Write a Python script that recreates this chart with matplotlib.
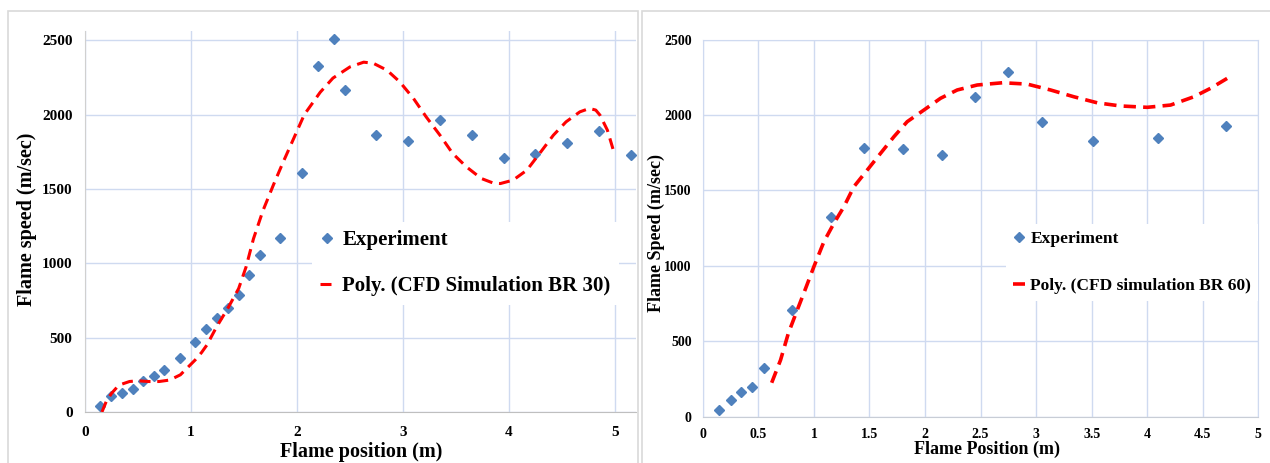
# Flame speed vs flame position -- experiment and CFD trend lines (BR 30 / BR 60)

# ====> Importing libraries
import matplotlib
matplotlib.use('Agg')
import matplotlib.pyplot as plt
from matplotlib.patches import Rectangle

plt.rcParams['font.family'] = ['Liberation Serif', 'DejaVu Serif']
plt.rcParams['font.weight'] = 'bold'

# ====> data

# BR 30 -- experiment
exp30_x = [0.14, 0.25, 0.35, 0.45, 0.55, 0.65, 0.75, 0.90, 1.04, 1.14, 1.25, 1.35,
           1.45, 1.55, 1.65, 1.84, 2.05, 2.20, 2.35, 2.45, 2.75, 3.05, 3.35, 3.65,
           3.95, 4.25, 4.55, 4.85, 5.15]
exp30_y = [40, 107, 130, 155, 208, 242, 282, 363, 468, 558, 634, 699,
           786, 920, 1057, 1169, 1608, 2325, 2505, 2164, 1861, 1823, 1960, 1861,
           1705, 1732, 1808, 1888, 1725]

# BR 30 -- polynomial trend of CFD simulation
cfd30_x = [0.16, 0.20, 0.25, 0.30, 0.35, 0.42, 0.50, 0.60, 0.70, 0.80, 0.90, 0.97,
           1.04, 1.10, 1.15, 1.24, 1.35, 1.45, 1.52, 1.59, 1.68, 1.78, 1.87, 1.97,
           2.07, 2.22, 2.34, 2.50, 2.63, 2.72, 2.85, 2.97, 3.10, 3.22, 3.35, 3.47,
           3.60, 3.74, 3.85, 3.92, 4.04, 4.17, 4.29, 4.42, 4.54, 4.67, 4.76, 4.82,
           4.86, 4.93, 5.00]
cfd30_y = [0, 70, 125, 165, 188, 205, 210, 205, 205, 215, 250, 300,
           350, 400, 450, 570, 700, 830, 975, 1165, 1355, 1530, 1680, 1840,
           2000, 2150, 2245, 2320, 2352, 2345, 2298, 2220, 2108, 1984, 1861, 1738,
           1648, 1570, 1540, 1536, 1559, 1626, 1738, 1861, 1951, 2018, 2041, 2030,
           1996, 1895, 1727]

# BR 60 -- experiment
exp60_x = [0.15, 0.25, 0.34, 0.44, 0.55, 0.80, 1.15, 1.45, 1.80, 2.15, 2.45, 2.75,
           3.05, 3.51, 4.10, 4.71]
exp60_y = [44, 111, 166, 195, 321, 707, 1322, 1779, 1775, 1733, 2121, 2283,
           1952, 1828, 1850, 1929]

# BR 60 -- polynomial trend of CFD simulation
cfd60_x = [0.62, 0.70, 0.77, 0.85, 0.92, 1.00, 1.09, 1.18, 1.27, 1.36, 1.48, 1.60,
           1.72, 1.84, 1.99, 2.14, 2.29, 2.47, 2.70, 2.92, 3.13, 3.34, 3.55, 3.76,
           4.00, 4.21, 4.42, 4.57, 4.72]
cfd60_y = [225, 376, 553, 707, 840, 995, 1160, 1282, 1392, 1525, 1635, 1746,
           1856, 1956, 2033, 2111, 2166, 2199, 2214, 2205, 2166, 2121, 2081, 2060,
           2051, 2066, 2121, 2177, 2243]

grid_col = '#cfdaf0'
blue = '#4f81bd'
red = '#ff0000'

# ====> figure and panel frames
fig = plt.figure(figsize=(12.7, 4.63), dpi=100)
fig.patches.append(Rectangle((8 / 1270, -0.1), 630 / 1270, 1.1 - 11 / 463,
                             transform=fig.transFigure, fill=False,
                             edgecolor='#d9d9d9', linewidth=1.2))
fig.patches.append(Rectangle((642 / 1270, -0.1), 630 / 1270, 1.1 - 11 / 463,
                             transform=fig.transFigure, fill=False,
                             edgecolor='#d9d9d9', linewidth=1.2))

ax1 = fig.add_axes([85 / 1270, 51 / 463, 551 / 1270, 381.5 / 463])
ax2 = fig.add_axes([702.8 / 1270, 46.3 / 463, 555.5 / 1270, 377.1 / 463])


def style_axes(ax, xticks, xlabels, ylabel, xlabel, tick_size, label_size):
    ax.set_xticks(xticks)
    ax.set_xticklabels(xlabels)
    ax.set_yticks([0, 500, 1000, 1500, 2000, 2500])
    ax.grid(True, color=grid_col, linewidth=1)
    ax.set_axisbelow(True)
    ax.tick_params(length=0, labelsize=tick_size)
    for lab in ax.get_xticklabels() + ax.get_yticklabels():
        lab.set_fontweight('bold')
    ax.set_ylabel(ylabel, fontsize=label_size, fontweight='bold', va='center')
    ax.set_xlabel(xlabel, fontsize=label_size, fontweight='bold', va='center')


# ====> BR 30 plot
ax1.plot(exp30_x, exp30_y, linestyle='none', marker='D', markersize=5,
         color=blue, label='Experiment', zorder=3)
ax1.plot(cfd30_x, cfd30_y, color=red, linewidth=2.2, linestyle=(0, (3.6, 2.2)),
         label='Poly. (CFD Simulation BR 30)', zorder=4)
ax1.set_xlim(0, 5.2)
ax1.set_ylim(0, 2565)
style_axes(ax1, [0, 1, 2, 3, 4, 5], ['0', '1', '2', '3', '4', '5'],
           'Flame speed (m/sec)', 'Flame position (m)', 11, 14.5)
ax1.tick_params(axis='x', pad=10)
ax1.tick_params(axis='y', pad=9)
ax1.xaxis.set_label_coords(0.501, -0.105)
ax1.yaxis.set_label_coords(-0.106, 0.506)
for s in ['top', 'right']:
    ax1.spines[s].set_visible(False)
ax1.spines['bottom'].set_color('#bfbfbf')
ax1.spines['left'].set_color('#d0d0d0')
leg1 = ax1.legend(loc='center left', bbox_to_anchor=(0.412, 0.39), borderaxespad=0,
                  borderpad=0.4, handlelength=0.6, handletextpad=0.45, labelspacing=1.25,
                  frameon=True, fancybox=False, edgecolor='none', facecolor='white',
                  framealpha=1, prop={'size': 15, 'weight': 'bold'})

# ====> BR 60 plot
ax2.plot(exp60_x, exp60_y, linestyle='none', marker='D', markersize=5,
         color=blue, label='Experiment', zorder=3)
ax2.plot(cfd60_x, cfd60_y, color=red, linewidth=2.6, linestyle=(0, (3.4, 2.0)),
         label='Poly. (CFD simulation BR 60)', zorder=4)
ax2.set_xlim(0, 5)
ax2.set_ylim(0, 2500)
style_axes(ax2, [0, 0.5, 1, 1.5, 2, 2.5, 3, 3.5, 4, 4.5, 5],
           ['0', '0.5', '1', '1.5', '2', '2.5', '3', '3.5', '4', '4.5', '5'],
           'Flame Speed (m/sec)', 'Flame Position (m)', 10, 13)
ax2.tick_params(axis='x', pad=8)
ax2.tick_params(axis='y', pad=8)
ax2.xaxis.set_label_coords(0.511, -0.086)
ax2.yaxis.set_label_coords(-0.084, 0.487)
for s in ax2.spines.values():
    s.set_color(grid_col)
ax2.spines['bottom'].set_color('#c8cdd6')
leg2 = ax2.legend(loc='center left', bbox_to_anchor=(0.546, 0.409), borderaxespad=0,
                  borderpad=0.4, handlelength=0.7, handletextpad=0.3, labelspacing=1.75,
                  frameon=True, fancybox=False, edgecolor='none', facecolor='white',
                  framealpha=1, prop={'size': 12.5, 'weight': 'bold'})

plt.savefig('out.png', dpi=100)
plt.close()
